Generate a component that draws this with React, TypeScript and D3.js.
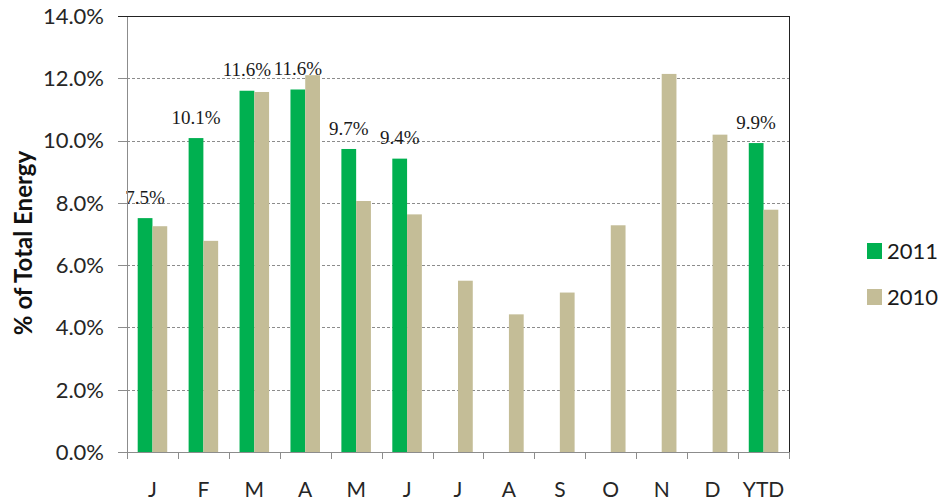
import React from "react";
import * as d3 from "d3";

const months = ["J", "F", "M", "A", "M", "J", "J", "A", "S", "O", "N", "D", "YTD"];
const seriesNames = ["2011", "2010"];
const values2011: (number | null)[] = [7.51, 10.08, 11.6, 11.64, 9.73, 9.42, null, null, null, null, null, null, 9.92];
const values2010: number[] = [7.25, 6.78, 11.56, 12.1, 8.06, 7.63, 5.5, 4.42, 5.12, 7.28, 12.14, 10.19, 7.78];
const yTicks = [0, 2, 4, 6, 8, 10, 12, 14];
const colors = ["#00B050", "#C4BD97"];

const width = 942;
const height = 504;
const plot = { left: 127, right: 789, top: 16, bottom: 452 };
const sans = "Lato, 'Open Sans', sans-serif";

const App = () => {
  const keys = months.map((_, i) => String(i));
  const x0 = d3
    .scaleBand<string>()
    .domain(keys)
    .range([plot.left, plot.right])
    .paddingInner(0.42)
    .paddingOuter(0.21);
  const x1 = d3.scaleBand<string>().domain(seriesNames).range([0, x0.bandwidth()]);
  const y = d3.scaleLinear().domain([0, 14]).range([plot.bottom, plot.top]);
  const step = x0.step();
  const boundary = (i: number) => plot.left + i * step;

  const rows = months.map((m, i) => ({ key: keys[i], label: m, vals: [values2011[i], values2010[i]] }));

  return (
    <svg width={width} height={height} style={{ position: "absolute", left: 0, top: 0 }}>
      <rect width={width} height={height} fill="#fff" />

      {/* gridlines */}
      {yTicks
        .filter((t) => t > 0 && t < 14)
        .map((t) => (
          <line
            key={t}
            x1={plot.left}
            x2={plot.right}
            y1={Math.round(y(t)) + 0.5}
            y2={Math.round(y(t)) + 0.5}
            stroke="#8c8c8c"
            strokeDasharray="3,2"
          />
        ))}

      {/* bars */}
      {rows.map((r) =>
        r.vals.map((v, j) =>
          v == null ? null : (
            <rect
              key={r.key + "-" + j}
              x={x0(r.key)! + x1(seriesNames[j])!}
              y={y(v)}
              width={x1.bandwidth()}
              height={plot.bottom - y(v)}
              fill={colors[j]}
            />
          )
        )
      )}

      {/* data labels for 2011 */}
      {rows.map((r) => {
        const v = r.vals[0];
        if (v == null) return null;
        const cx = x0(r.key)! + x1("2011")! + x1.bandwidth() / 2;
        return (
          <text
            key={"lbl" + r.key}
            x={cx}
            y={y(v) - 21}
            dy="0.35em"
            textAnchor="middle"
            fontFamily="'Liberation Serif', serif"
            fontSize={19}
            fill="#1a1a1a"
          >
            {v.toFixed(1) + "%"}
          </text>
        );
      })}

      {/* plot border top/right */}
      <line x1={plot.left} x2={plot.right} y1={plot.top + 0.5} y2={plot.top + 0.5} stroke="#222" />
      <line x1={plot.right + 0.5} x2={plot.right + 0.5} y1={plot.top} y2={plot.bottom} stroke="#222" />

      {/* y axis */}
      <line x1={plot.left + 0.5} x2={plot.left + 0.5} y1={plot.top} y2={plot.bottom + 7} stroke="#8c8c8c" />
      {yTicks.map((t) => (
        <g key={"yt" + t}>
          <line
            x1={plot.left - 9}
            x2={t === 14 ? plot.left + 1 : plot.left}
            y1={Math.round(y(t)) + 0.5}
            y2={Math.round(y(t)) + 0.5}
            stroke={t === 14 ? "#222" : "#8c8c8c"}
          />
          <text
            x={104}
            y={y(t)}
            dy="0.36em"
            textAnchor="end"
            fontFamily={sans}
            fontSize={22}
            fill="#262626"
          >
            {t.toFixed(1) + "%"}
          </text>
        </g>
      ))}

      {/* x axis */}
      <line x1={plot.left} x2={plot.right + 1} y1={plot.bottom + 0.5} y2={plot.bottom + 0.5} stroke="#8c8c8c" />
      {d3.range(months.length + 1).map((i) => (
        <line
          key={"xt" + i}
          x1={Math.round(boundary(i)) + 0.5}
          x2={Math.round(boundary(i)) + 0.5}
          y1={plot.bottom}
          y2={plot.bottom + 7}
          stroke="#8c8c8c"
        />
      ))}
      {rows.map((r) => (
        <text
          key={"xl" + r.key}
          x={x0(r.key)! + x0.bandwidth() / 2}
          y={497}
          textAnchor="middle"
          fontFamily={sans}
          fontSize={21}
          fill="#262626"
        >
          {r.label}
        </text>
      ))}

      {/* y axis title */}
      <text
        transform={`translate(32, ${(plot.top + plot.bottom) / 2 + 9}) rotate(-90)`}
        textAnchor="middle"
        fontFamily={sans}
        fontWeight="bold"
        fontSize={24}
        fill="#111"
      >
        % of Total Energy
      </text>

      {/* legend */}
      {seriesNames.map((s, i) => (
        <g key={"lg" + s} transform={`translate(867, ${243 + i * 46})`}>
          <rect width={15} height={16} fill={colors[i]} />
          <text x={20} y={16} fontFamily={sans} fontSize={22} fill="#1a1a1a">
            {s}
          </text>
        </g>
      ))}
    </svg>
  );
};

export default App;
